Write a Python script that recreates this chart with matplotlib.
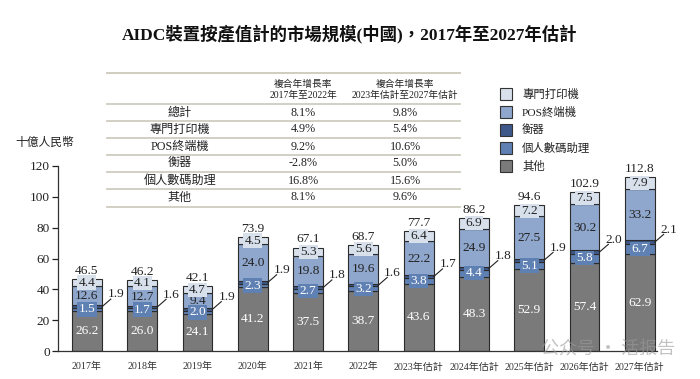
import matplotlib
matplotlib.use("Agg")
import matplotlib.pyplot as plt
from matplotlib.patches import Rectangle
from matplotlib.lines import Line2D

plt.rcParams['font.family'] = ['Liberation Serif', 'Noto Sans CJK TC', 'DejaVu Sans']

years = ['2017年', '2018年', '2019年', '2020年', '2021年', '2022年',
         '2023年估計', '2024年估計', '2025年估計', '2026年估計', '2027年估計']
others = [26.2, 26.0, 24.1, 41.2, 37.5, 38.7, 43.6, 48.3, 52.9, 57.4, 62.9]
pda = [1.5, 1.7, 2.0, 2.3, 2.7, 3.2, 3.8, 4.4, 5.1, 5.8, 6.7]
scales = [1.9, 1.6, 1.9, 1.9, 1.8, 1.6, 1.7, 1.8, 1.9, 2.0, 2.1]
pos = [12.6, 12.7, 9.4, 24.0, 19.8, 19.6, 22.2, 24.9, 27.5, 30.2, 33.2]
printers = [4.4, 4.1, 4.7, 4.5, 5.3, 5.6, 6.4, 6.9, 7.2, 7.5, 7.9]
totals = [46.5, 46.2, 42.1, 73.9, 67.1, 68.7, 77.7, 86.2, 94.6, 102.9, 112.8]

legend_labels = ['專門打印機', 'POS終端機', '衡器', '個人數碼助理', '其他']
table_rows = ['總計', '專門打印機', 'POS終端機', '衡器', '個人數碼助理', '其他']
cagr_1722 = ['8.1%', '4.9%', '9.2%', '-2.8%', '16.8%', '8.1%']
cagr_2327 = ['9.8%', '5.4%', '10.6%', '5.0%', '15.6%', '9.6%']
header1 = '複合年增長率\n2017年至2022年'
header2 = '複合年增長率\n2023年估計至2027年估計'

c_others = '#7a7a7a'
c_pda = '#5f80b3'
c_scales = '#3d5889'
c_pos = '#8fa7cc'
c_print = '#d7e0eb'
edge = '#2b2b2b'

W, H = 700, 379
fig = plt.figure(figsize=(7, 3.79), dpi=100)
ax = fig.add_axes([58 / W, (H - 351) / H, (657 - 58) / W, 185 / H])

x = list(range(len(years)))
bw = 0.54
b1 = others
b2 = [a + b for a, b in zip(b1, pda)]
b3 = [a + b for a, b in zip(b2, scales)]
b4 = [a + b for a, b in zip(b3, pos)]

ax.bar(x, others, bw, color=c_others, edgecolor=edge, linewidth=0.8, zorder=2)
ax.bar(x, pda, bw, bottom=b1, color=c_pda, edgecolor=edge, linewidth=0.8, zorder=2)
ax.bar(x, scales, bw, bottom=b2, color=c_scales, edgecolor=edge, linewidth=0.8, zorder=2)
ax.bar(x, pos, bw, bottom=b3, color=c_pos, edgecolor=edge, linewidth=0.8, zorder=2)
ax.bar(x, printers, bw, bottom=b4, color=c_print, edgecolor=edge, linewidth=0.8, zorder=2)

fs = 9.6
for i in x:
    ax.text(i, others[i] / 2, f'{others[i]:.1f}', ha='center', va='center', color='white', fontsize=fs, zorder=4)
    ax.text(i, b1[i] + pda[i] / 2, f'{pda[i]:.1f}', ha='center', va='center', color='white', fontsize=fs, zorder=4,
            bbox=dict(boxstyle='square,pad=0.1', fc=c_pda, ec='none'))
    ax.text(i, b3[i] + pos[i] / 2 - 0.3, f'{pos[i]:.1f}', ha='center', va='center', color='#222222', fontsize=fs, zorder=4)
    ax.text(i, b4[i] + printers[i] / 2, f'{printers[i]:.1f}', ha='center', va='center', color='#222222', fontsize=fs, zorder=5,
            bbox=dict(boxstyle='square,pad=0.08', fc=c_print, ec='none'))
    ax.annotate(f'{totals[i]:.1f}', (i, totals[i]), xytext=(0, 1.5), textcoords='offset points',
                ha='center', va='bottom', fontsize=fs, color='#222222', annotation_clip=False)
    mid = b2[i] + scales[i] / 2
    ax.plot([i + bw / 2, i + 0.43], [mid, mid + 5.0], color='#222222', lw=0.8, zorder=3, clip_on=False)
    ax.text(i + 0.53, mid + 8.0, f'{scales[i]:.1f}', ha='center', va='center', fontsize=fs, color='#222222',
            clip_on=False)

ax.set_xlim(-0.524, 10.31)
ax.set_ylim(0, 120)
ax.set_yticks(range(0, 121, 20))
ax.tick_params(axis='y', direction='out', length=4, width=0.9, labelsize=9.5, pad=2, colors='#222222')
ax.set_xticks(x)
ax.set_xticklabels(years, fontsize=7.2)
ax.tick_params(axis='x', length=0, pad=8, colors='#333333')
for s in ['top', 'right']:
    ax.spines[s].set_visible(False)
ax.spines['left'].set_color('#333333')
ax.spines['bottom'].set_color('#333333')
ax.spines['left'].set_linewidth(0.9)
ax.spines['bottom'].set_linewidth(0.9)

# y unit label
fig.text(45 / W, 1 - 143 / H, '十億人民幣', ha='center', va='center', fontsize=8.5, color='#222222')

# title
fig.text(350 / W, 1 - 35 / H, 'AIDC裝置按產值計的市場規模(中國)，2017年至2027年估計',
         ha='center', va='center', fontsize=12.5, fontweight='bold', color='#111111')

# table
tl, tr = 107 / W, 460 / W
line_c = '#cfcdbf'
for yp, lw in [(73, 1.4), (104, 1.3), (121, 1.3), (138, 1.3), (155, 1.3), (172, 1.3), (189, 1.3), (207, 1.3)]:
    fig.add_artist(Line2D([tl, tr], [1 - yp / H, 1 - yp / H], color=line_c, lw=lw))
fig.text(303 / W, 1 - 90 / H, header1, ha='center', va='center', fontsize=7, color='#222222', linespacing=1.2)
fig.text(405 / W, 1 - 90 / H, header2, ha='center', va='center', fontsize=7, color='#222222', linespacing=1.2)
row_y = [112.5, 129.5, 146.5, 163.5, 180.5, 197.5]
for r, yp in enumerate(row_y):
    fig.text(180 / W, 1 - yp / H, table_rows[r], ha='center', va='center', fontsize=8.7, color='#222222')
    fig.text(303 / W, 1 - yp / H, cagr_1722[r], ha='center', va='center', fontsize=8.7, color='#222222')
    fig.text(405 / W, 1 - yp / H, cagr_2327[r], ha='center', va='center', fontsize=8.7, color='#222222')

# legend
leg_colors = [c_print, c_pos, c_scales, c_pda, c_others]
leg_y = [94, 112, 130, 148, 166]
for lab, col, yp in zip(legend_labels, leg_colors, leg_y):
    fig.add_artist(Rectangle((500 / W, 1 - (yp + 6) / H), 12 / W, 12 / H, fc=col, ec='#333333', lw=0.8))
    fig.text(522 / W, 1 - yp / H, lab, ha='left', va='center', fontsize=8.2, color='#222222')

# watermark
fig.text(608 / W, 1 - 349 / H, '公众号 · 活报告', ha='center', va='center', fontsize=13,
         color='#9a9a9a', alpha=0.6, family=['Noto Sans CJK SC'], zorder=5)

fig.savefig('out.png', dpi=100)
